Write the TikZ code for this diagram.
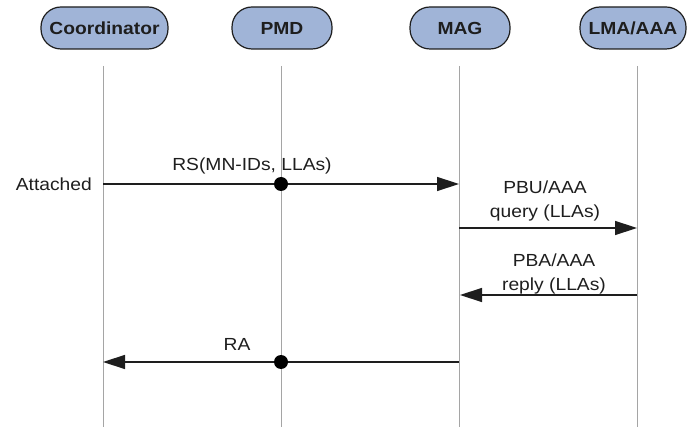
\documentclass[tikz,border=0pt]{standalone}
\usepackage{fontspec}
\setmainfont{Liberation Sans}[FakeStretch=1.1]
\usetikzlibrary{arrows.meta}
\definecolor{boxfill}{RGB}{160,180,215}
\definecolor{lifegray}{RGB}{165,165,165}
\definecolor{ink}{RGB}{30,30,30}
\begin{document}
\begin{tikzpicture}[x=1pt,y=-1pt,
  actor/.style={draw=ink, line width=1.2pt, fill=boxfill, rounded corners=20pt,
    minimum height=42pt, inner sep=0pt, font=\fontsize{17.5}{20}\selectfont\bfseries, text=ink},
  life/.style={draw=lifegray, line width=1pt},
  msg/.style={draw=ink, line width=1.4pt, -{Triangle[length=22pt,width=14pt]}},
  lbl/.style={font=\fontsize{17.5}{24}\selectfont, align=center, text=ink, inner sep=0pt},
  dotnode/.style={circle, fill=black, minimum size=14pt, inner sep=0pt}]
\useasboundingbox (0,0) rectangle (688,427);
% actors
\node[actor, minimum width=127pt] (coord) at (104.5,28) {Coordinator};
\node[actor, minimum width=100pt] (pmd) at (282,28) {PMD};
\node[actor, minimum width=100pt] (mag) at (460,28) {MAG};
\node[actor, minimum width=106pt] (lma) at (633,28) {LMA/AAA};
% lifelines
\coordinate (c0) at (103,66);  \coordinate (c1) at (103,427);
\coordinate (p0) at (281,66);  \coordinate (p1) at (281,427);
\coordinate (m0) at (459,66);  \coordinate (m1) at (459,427);
\coordinate (l0) at (637,66);  \coordinate (l1) at (637,427);
\draw[life] (c0) -- (c1);
\draw[life] (p0) -- (p1);
\draw[life] (m0) -- (m1);
\draw[life] (l0) -- (l1);
% RS
\coordinate (rsA) at (103,184); \coordinate (rsB) at (459,184);
\draw[msg] (rsA) -- (rsB);
\node[dotnode] (rsdot) at (281,184) {};
\node[lbl] (rslbl) at (252,166) {RS(MN-IDs, LLAs)};
\node[lbl, anchor=east] (att) at (92,184) {Attached};
% PBU
\coordinate (pbuA) at (459,228); \coordinate (pbuB) at (637,228);
\draw[msg] (pbuA) -- (pbuB);
\node[lbl] (pbulbl) at (545,200.5) {PBU/AAA\\query (LLAs)};
% PBA
\coordinate (pbaA) at (637,295); \coordinate (pbaB) at (460,295);
\draw[msg] (pbaA) -- (pbaB);
\node[lbl] (pbalbl) at (554,273.5) {PBA/AAA\\reply (LLAs)};
% RA
\coordinate (raA) at (459,362); \coordinate (raB) at (103,362);
\draw[msg] (raA) -- (raB);
\node[dotnode] (radot) at (281,362) {};
\node[lbl] (ralbl) at (237,344) {RA};
\end{tikzpicture}
\end{document}
